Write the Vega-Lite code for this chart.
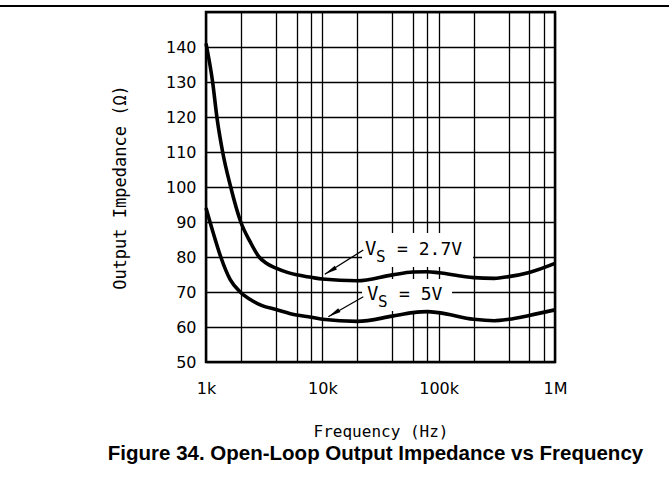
{
  "$schema": "https://vega.github.io/schema/vega-lite/v6.json",
  "width": 349,
  "height": 350,
  "autosize": {"type": "none"},
  "padding": {"left": 206, "top": 12, "right": 114, "bottom": 121},
  "background": "white",
  "config": {
    "view": {"stroke": "black", "strokeWidth": 2.5},
    "axis": {
      "grid": true,
      "gridColor": "black",
      "gridWidth": 1.3,
      "gridOpacity": 1,
      "domain": false,
      "ticks": false,
      "tickSize": 0,
      "labelColor": "black",
      "labelFont": "DejaVu Sans",
      "labelFontSize": 16,
      "titleColor": "black",
      "titleFont": "DejaVu Sans Mono",
      "titleFontWeight": "normal"
    }
  },
  "title": {
    "text": "Figure 34. Open-Loop Output Impedance vs Frequency",
    "orient": "bottom",
    "anchor": "middle",
    "font": "Liberation Sans",
    "fontWeight": "bold",
    "fontSize": 20.5,
    "color": "black",
    "offset": 5,
    "dx": -5
  },
  "datasets": {
    "curves": [
      {"vs": "2.7V", "f": 1000, "z": 141},
      {"vs": "2.7V", "f": 1140, "z": 130},
      {"vs": "2.7V", "f": 1240, "z": 120},
      {"vs": "2.7V", "f": 1390, "z": 110},
      {"vs": "2.7V", "f": 1630, "z": 100},
      {"vs": "2.7V", "f": 1990, "z": 90},
      {"vs": "2.7V", "f": 2400, "z": 84.3},
      {"vs": "2.7V", "f": 2860, "z": 80},
      {"vs": "2.7V", "f": 3300, "z": 78.2},
      {"vs": "2.7V", "f": 4000, "z": 76.8},
      {"vs": "2.7V", "f": 5000, "z": 75.6},
      {"vs": "2.7V", "f": 6000, "z": 74.9},
      {"vs": "2.7V", "f": 8000, "z": 74.2},
      {"vs": "2.7V", "f": 10000, "z": 73.7},
      {"vs": "2.7V", "f": 20000, "z": 73.2},
      {"vs": "2.7V", "f": 40000, "z": 74.9},
      {"vs": "2.7V", "f": 60000, "z": 75.7},
      {"vs": "2.7V", "f": 80000, "z": 75.8},
      {"vs": "2.7V", "f": 100000, "z": 75.5},
      {"vs": "2.7V", "f": 200000, "z": 74.1},
      {"vs": "2.7V", "f": 300000, "z": 73.9},
      {"vs": "2.7V", "f": 400000, "z": 74.4},
      {"vs": "2.7V", "f": 600000, "z": 75.6},
      {"vs": "2.7V", "f": 1000000, "z": 78.2},
      {"vs": "5V", "f": 1000, "z": 94},
      {"vs": "5V", "f": 1156, "z": 86.8},
      {"vs": "5V", "f": 1340, "z": 80},
      {"vs": "5V", "f": 1610, "z": 73.6},
      {"vs": "5V", "f": 2000, "z": 69.8},
      {"vs": "5V", "f": 2500, "z": 67.5},
      {"vs": "5V", "f": 3000, "z": 66.2},
      {"vs": "5V", "f": 4000, "z": 65.0},
      {"vs": "5V", "f": 6000, "z": 63.4},
      {"vs": "5V", "f": 8000, "z": 62.8},
      {"vs": "5V", "f": 10000, "z": 62.2},
      {"vs": "5V", "f": 20000, "z": 61.6},
      {"vs": "5V", "f": 40000, "z": 63.1},
      {"vs": "5V", "f": 60000, "z": 64.1},
      {"vs": "5V", "f": 80000, "z": 64.4},
      {"vs": "5V", "f": 100000, "z": 64.1},
      {"vs": "5V", "f": 200000, "z": 62.2},
      {"vs": "5V", "f": 300000, "z": 61.8},
      {"vs": "5V", "f": 400000, "z": 62.2},
      {"vs": "5V", "f": 600000, "z": 63.3},
      {"vs": "5V", "f": 1000000, "z": 64.9}
    ],
    "boxes": [
      {"vs": "2.7V", "f": 21950, "f2": 197600, "z": 86.86, "z2": 77.14},
      {"vs": "5V", "f": 21950, "f2": 130400, "z": 73.71, "z2": 64.57}
    ],
    "notes": [
      {"vs": "2.7V", "f": 23290, "z": 80.57, "label": "= 2.7V"},
      {"vs": "5V", "f": 24230, "z": 67.71, "label": "= 5V"}
    ],
    "arrows": [
      {"vs": "2.7V", "f": 10500, "z": 75.06, "f2": 22500, "z2": 82.0},
      {"vs": "5V", "f": 11260, "z": 62.94, "f2": 22500, "z2": 68.66}
    ],
    "rule": [
      {"f": 10, "f2": 10000000, "z": 151.7}
    ]
  },
  "encoding": {
    "x": {
      "field": "f",
      "type": "quantitative",
      "scale": {"type": "log", "domain": [1000, 1000000], "nice": false},
      "axis": {
        "values": [1000, 2000, 4000, 6000, 8000, 10000, 20000, 40000, 60000, 80000, 100000, 200000, 400000, 600000, 800000, 1000000],
        "labelExpr": "datum.value == 1000 ? '1k' : datum.value == 10000 ? '10k' : datum.value == 100000 ? '100k' : datum.value == 1000000 ? '1M' : ''",
        "labelPadding": 18,
        "labelFlush": false,
        "labelOverlap": false,
        "title": "Frequency (Hz)",
        "titleFontSize": 16,
        "titlePadding": 27
      }
    },
    "y": {
      "field": "z",
      "type": "quantitative",
      "scale": {"domain": [50, 150], "nice": false, "zero": false},
      "axis": {
        "values": [50, 60, 70, 80, 90, 100, 110, 120, 130, 140, 150],
        "labelExpr": "datum.value == 150 ? '' : datum.label",
        "labelPadding": 10,
        "labelFlush": false,
        "labelOverlap": false,
        "title": "Output Impedance (Ω)",
        "titleFontSize": 17,
        "titlePadding": 36
      }
    }
  },
  "layer": [
    {
      "data": {"name": "boxes"},
      "mark": {"type": "rect", "fill": "white"},
      "encoding": {
        "x2": {"field": "f2"},
        "y2": {"field": "z2"}
      }
    },
    {
      "data": {"name": "curves"},
      "mark": {"type": "line", "color": "black", "strokeWidth": 3.6, "interpolate": "monotone"},
      "encoding": {
        "detail": {"field": "vs"}
      }
    },
    {
      "data": {"name": "arrows"},
      "mark": {"type": "rule", "color": "black", "strokeWidth": 1.3},
      "encoding": {
        "x2": {"field": "f2"},
        "y2": {"field": "z2"}
      }
    },
    {
      "data": {"name": "arrows"},
      "mark": {"type": "point", "shape": "M0,0L0.36,2.1L-0.36,2.1Z", "filled": true, "color": "black", "opacity": 1, "size": 150, "angle": 239},
      "encoding": {}
    },
    {
      "data": {"name": "notes"},
      "mark": {"type": "text", "text": "V", "font": "DejaVu Sans Mono", "fontSize": 19, "align": "left", "baseline": "alphabetic", "color": "black"},
      "encoding": {}
    },
    {
      "data": {"name": "notes"},
      "mark": {"type": "text", "text": "S", "font": "DejaVu Sans Mono", "fontSize": 16, "align": "left", "baseline": "alphabetic", "color": "black", "dx": 11, "dy": 7},
      "encoding": {}
    },
    {
      "data": {"name": "notes"},
      "mark": {"type": "text", "font": "DejaVu Sans Mono", "fontSize": 18, "align": "left", "baseline": "alphabetic", "color": "black", "dx": 32},
      "encoding": {
        "text": {"field": "label"}
      }
    },
    {
      "data": {"name": "rule"},
      "mark": {"type": "rule", "color": "black", "strokeWidth": 2, "clip": false},
      "encoding": {
        "x2": {"field": "f2"}
      }
    }
  ]
}
